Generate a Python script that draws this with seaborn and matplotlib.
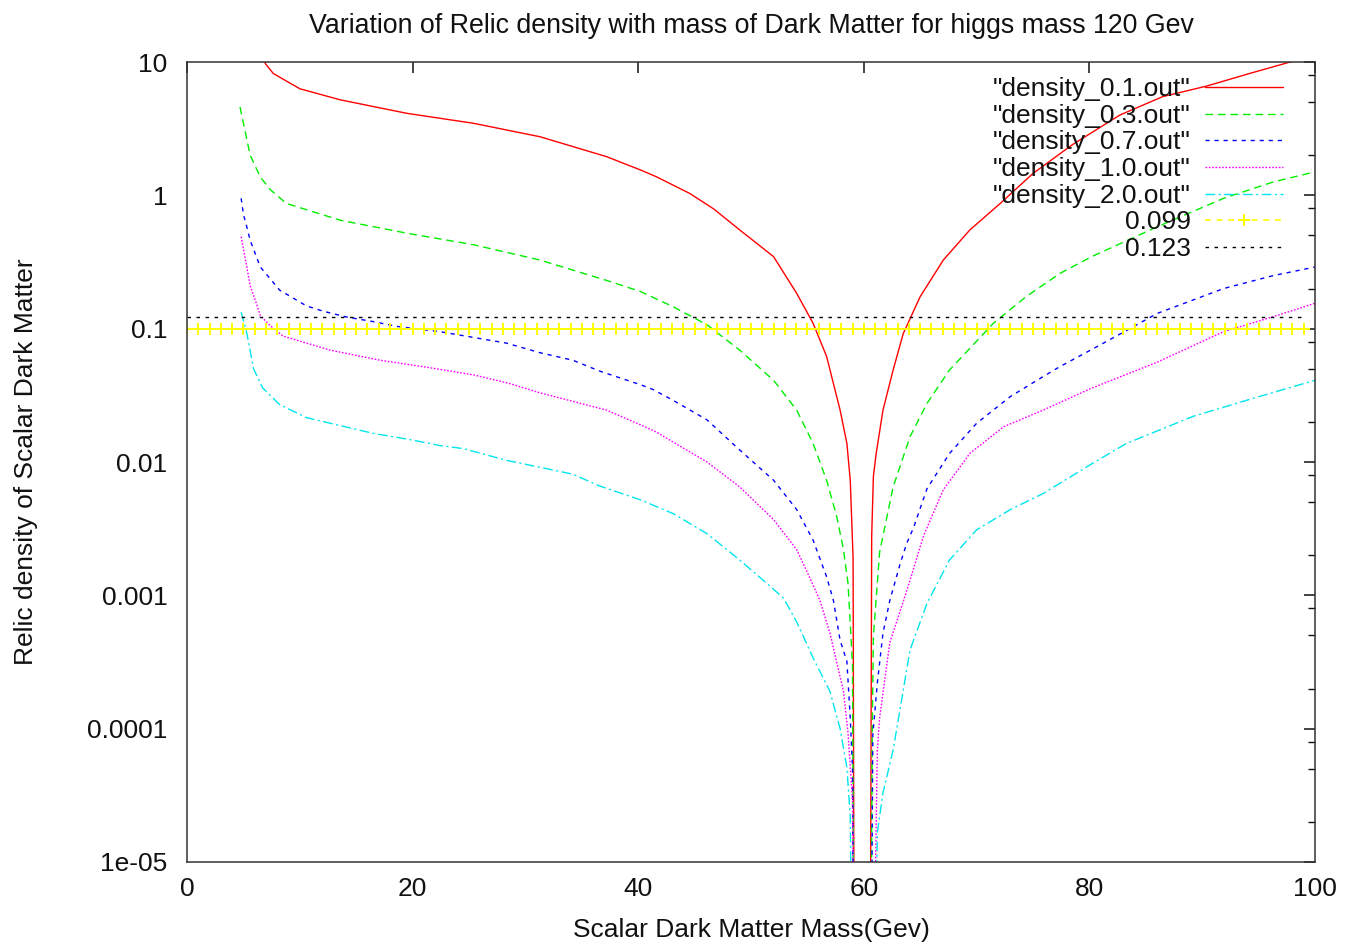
import numpy as np
import pandas as pd
import matplotlib
matplotlib.use("Agg")
import matplotlib.pyplot as plt
import seaborn as sns
from matplotlib.ticker import FixedLocator, FixedFormatter, LogLocator, NullFormatter, NullLocator

sns.set_theme(style="white")
plt.rcParams['font.family'] = ['Liberation Sans', 'DejaVu Sans']

# ---------------- data ----------------
red_x = [5, 6, 7, 7.65, 10.0, 13.6, 19.5, 25.4, 31.3, 37.2, 40.2, 41.6, 44.6, 46.7, 49.0, 52.0, 54.05, 55.5,
         56.7, 57.9, 58.5, 58.8, 59.05, 59.2,
         60.5, 60.7, 60.85, 61.1, 61.7, 62.6, 63.5, 65.0, 67.05, 69.4, 72.1, 75.0, 78.5, 82.7, 86.5, 90.4,
         94.2, 97.8, 100]
red_y = [30, 13, 9.6, 8.2, 6.3, 5.2, 4.12, 3.47, 2.75, 1.95, 1.55, 1.38, 1.03, 0.79, 0.55, 0.347, 0.184, 0.11,
         0.062, 0.0245, 0.0138, 0.0073, 0.0019, 1e-8,
         1e-8, 0.0028, 0.0078, 0.0116, 0.0245, 0.049, 0.092, 0.174, 0.327, 0.55, 0.87, 1.46, 2.4, 4.0, 5.5, 6.6,
         8.2, 10, 11]

green_x = [4.7, 5.6, 6.5, 7.4, 8.8, 13.6, 19.5, 25.4, 31.3, 37.2, 40.2, 43.1, 46.1, 49.0, 52.0, 54.05, 55.5,
           56.7, 57.6, 58.2, 58.6, 59.0, 59.2,
           60.5, 60.75, 60.85, 61.4, 62.6, 64.1, 65.6, 67.6, 71.5, 74.4, 77.4, 80.2, 86.0, 91.9, 96.3, 100]
green_y = [4.6, 2.0, 1.37, 1.1, 0.87, 0.65, 0.52, 0.426, 0.327, 0.23, 0.19, 0.146, 0.107, 0.069, 0.041, 0.0245, 0.0138,
           0.0073, 0.0039, 0.0022, 0.00123, 0.0003, 1e-8,
           1e-8, 1e-4, 4.9e-4, 0.0021, 0.0065, 0.0155, 0.0275, 0.049, 0.11, 0.174, 0.26, 0.347, 0.58, 0.95, 1.26, 1.5]

blue_x = [4.8, 5.0, 5.3, 5.6, 6.5, 8.2, 10.6, 12.1, 14.2, 16.5, 18.6, 22.4, 28.3, 31.3, 34.2, 36.6, 40.2, 41.3,
          43.1, 46.1, 49.0, 52.0, 54.05, 55.5, 56.7, 57.3, 57.9, 58.5, 58.8, 59.0, 59.2,
          60.5, 60.8, 61.2, 61.7, 62.3, 63.2, 63.8, 64.4, 65.6, 67.6, 70.0, 73.0, 75.9, 77.4, 80.1, 83.3,
          86.0, 91.9, 96.3, 100]
blue_y = [0.95, 0.72, 0.58, 0.46, 0.29, 0.195, 0.148, 0.135, 0.122, 0.113, 0.104, 0.095, 0.078, 0.066, 0.058, 0.048, 0.038, 0.035,
          0.029, 0.0207, 0.0123, 0.0073, 0.0044, 0.0026, 0.00138, 0.00092, 4.6e-4, 3.2e-4, 1.2e-4, 5e-5, 1e-8,
          1e-8, 9e-5, 2.2e-4, 5.2e-4, 9.1e-4, 0.0017, 0.00245, 0.0032, 0.0063, 0.0116, 0.0195, 0.031, 0.0437, 0.052, 0.069, 0.097,
          0.13, 0.2, 0.25, 0.29]

magenta_x = [4.8, 5.3, 5.6, 6.2, 6.5, 7.4, 8.5, 12.7, 17.1, 21.5, 25.4, 28.5, 31.3, 37.2, 40.2, 41.6, 43.1, 46.1,
             49.0, 52.0, 54.05, 55.5, 56.1, 57.0, 58.2, 58.6, 59.0, 59.2,
             60.5, 61.2, 61.4, 62.3, 63.5, 64.1, 65.3, 67.05, 68.5, 69.4, 72.4, 75.9, 80.1, 86.0, 91.9, 96.3, 100]
magenta_y = [0.49, 0.29, 0.21, 0.15, 0.125, 0.105, 0.088, 0.069, 0.058, 0.051, 0.045, 0.039, 0.033, 0.0245, 0.019, 0.0168, 0.0141, 0.01,
             0.0065, 0.0037, 0.0022, 0.0012, 0.00092, 5.2e-4, 1.9e-4, 9.3e-5, 2.9e-5, 1e-8,
             1e-8, 6.9e-5, 1.2e-4, 4.4e-4, 9e-4, 0.0013, 0.0028, 0.0062, 0.0091, 0.0116, 0.0184, 0.0245, 0.0355, 0.056, 0.095, 0.123, 0.155]

cyan_x = [4.8, 5.3, 5.9, 6.7, 7.65, 8.2, 10.6, 16.5, 20, 22.4, 24.5, 28.3, 32.2, 34.2, 36.6, 40.2, 43.1, 46.1, 49.0, 51.4,
          52.9, 54.1, 55.5, 57.0, 57.9, 58.5, 58.8, 59.2,
          60.6, 61.2, 61.7, 62.6, 64.1, 65.6, 67.6, 70.0, 73.0, 75.9, 80.3, 83.3, 89.2, 94.5, 100]
cyan_y = [0.133, 0.093, 0.05, 0.036, 0.03, 0.027, 0.0215, 0.0164, 0.0146, 0.0133, 0.0126, 0.0103, 0.0088, 0.0081, 0.0066, 0.0052, 0.0041, 0.0029, 0.00184, 0.00123,
          0.00095, 0.00062, 3.4e-4, 1.9e-4, 1.0e-4, 5.1e-5, 2.2e-5, 1e-8,
          1e-8, 1.66e-5, 3.3e-5, 6.9e-5, 3.9e-4, 8.7e-4, 0.00184, 0.0031, 0.0044, 0.0058, 0.0098, 0.0138, 0.022, 0.030, 0.041]

level_x = list(range(0, 100))
level_low = 0.099
level_high = 0.123

series_labels = ['"density_0.1.out"', '"density_0.3.out"', '"density_0.7.out"',
                 '"density_1.0.out"', '"density_2.0.out"', '0.099', '0.123']

x_ticks = [0, 20, 40, 60, 80, 100]
y_ticks = [1e-5, 1e-4, 1e-3, 1e-2, 1e-1, 1, 10]
y_tick_labels = ['1e-05', '0.0001', '0.001', '0.01', '0.1', '1', '10']

title = "Variation of Relic density with mass of Dark Matter for higgs mass 120 Gev"
xlabel = "Scalar Dark Matter Mass(Gev)"
ylabel = "Relic density of Scalar Dark Matter"

# ---------------- figure ----------------
W, H = 1345, 944
fig = plt.figure(figsize=(W / 100, H / 100), dpi=100)
ax = fig.add_axes([187 / W, 1 - 862 / H, 1128 / W, 800 / H])
ax.set_yscale("log")

curves = [
    (red_x, red_y, "#ff0000", "-"),
    (green_x, green_y, "#00ee00", (0, (5.5, 3.5))),
    (blue_x, blue_y, "#0000ff", (0, (3, 3.5))),
    (magenta_x, magenta_y, "#ff00ff", (0, (1.2, 1.2))),
    (cyan_x, cyan_y, "#00e5ee", (0, (7, 2.5, 1.5, 2.5))),
]
for (cx, cy, col, ls), lab in zip(curves, series_labels[:5]):
    sns.lineplot(x=cx, y=cy, ax=ax, color=col, linestyle=ls, lw=1.0,
                 label=lab, estimator=None, sort=False)

sns.lineplot(x=level_x, y=[level_low] * len(level_x), ax=ax, color="#ffff00",
             linestyle=(0, (3.5, 3.5)), lw=1.2, marker="+", markersize=9,
             markeredgewidth=1.4, markeredgecolor="#ffff00", markerfacecolor="#ffff00",
             label=series_labels[5], estimator=None, sort=False)
sns.lineplot(x=level_x, y=[level_high] * len(level_x), ax=ax, color="#000000",
             linestyle=(0, (2.5, 4)), lw=1.0, label=series_labels[6],
             estimator=None, sort=False)

ax.set_xlim(0, 100)
ax.set_ylim(1e-5, 10)

ax.xaxis.set_major_locator(FixedLocator(x_ticks))
ax.xaxis.set_major_formatter(FixedFormatter([str(v) for v in x_ticks]))
ax.xaxis.set_minor_locator(NullLocator())
ax.yaxis.set_major_locator(FixedLocator(y_ticks))
ax.yaxis.set_major_formatter(FixedFormatter(y_tick_labels))
ax.yaxis.set_minor_locator(LogLocator(base=10, subs=(2, 5, 8), numticks=30))
ax.yaxis.set_minor_formatter(NullFormatter())

ax.tick_params(axis="both", which="major", direction="in", length=8, width=1.1,
               top=True, right=True, labelsize=19, colors="#111111")
ax.tick_params(axis="both", which="minor", direction="in", length=5, width=1.0,
               top=True, right=True, colors="#111111")
ax.tick_params(axis="x", which="major", pad=11)
ax.tick_params(axis="y", which="major", pad=14)

for sp in ax.spines.values():
    sp.set_color("#333333")
    sp.set_linewidth(1.1)

ax.set_title(title, fontsize=19.3, pad=21, color="#111111")
ax.set_xlabel(xlabel, fontsize=19, color="#111111")
ax.set_ylabel(ylabel, fontsize=19, color="#111111")
ax.xaxis.set_label_coords(0.5, -0.07)
ax.yaxis.set_label_coords(-0.132, 0.5)

leg = ax.legend(loc="upper right", bbox_to_anchor=(0.9716, 0.981), frameon=False,
                markerfirst=False, handlelength=2.95, handletextpad=0.55,
                labelspacing=0.1, borderpad=0, borderaxespad=0, fontsize=19,
                numpoints=1)
for t in leg.get_texts():
    t.set_color("#111111")

fig.savefig("out.png", dpi=100, facecolor="white")
